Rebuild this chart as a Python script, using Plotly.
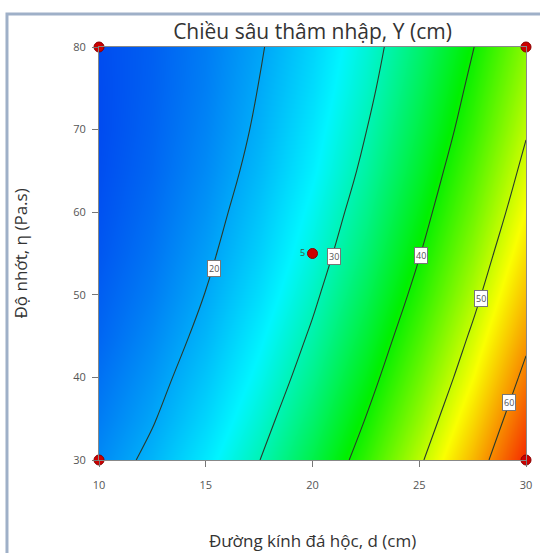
import plotly.graph_objects as go

# Axes (factor levels)
d_values = [10, 12.5, 15, 17.5, 20, 22.5, 25, 27.5, 30]          # Đường kính đá hộc, d (cm)
eta_values = [30, 35, 40, 45, 50, 55, 60, 65, 70, 75, 80]         # Độ nhớt, η (Pa.s)

# Response Y (cm); rows = eta, cols = d
Y_grid = [
    [17.7, 21.0, 25.1, 29.9, 35.6, 42.0, 49.3, 57.3, 66.1],
    [16.6, 19.7, 23.6, 28.3, 33.8, 40.1, 47.1, 55.0, 63.6],
    [15.7, 18.6, 22.3, 26.8, 32.1, 38.2, 45.1, 52.7, 61.2],
    [14.8, 17.6, 21.1, 25.5, 30.6, 36.5, 43.2, 50.7, 58.9],
    [14.2, 16.7, 20.1, 24.2, 29.2, 34.9, 41.4, 48.7, 56.8],
    [13.6, 16.0, 19.2, 23.1, 27.9, 33.4, 39.8, 46.9, 54.8],
    [13.2, 15.4, 18.4, 22.2, 26.8, 32.1, 38.3, 45.2, 52.9],
    [12.9, 14.9, 17.7, 21.3, 25.7, 30.9, 36.9, 43.7, 51.2],
    [12.7, 14.6, 17.2, 20.6, 24.9, 29.9, 35.7, 42.2, 49.6],
    [12.7, 14.4, 16.8, 20.1, 24.1, 28.9, 34.6, 41.0, 48.1],
    [12.8, 14.3, 16.6, 19.6, 23.5, 28.1, 33.6, 39.8, 46.8],
]

# Contour levels and label placement (d, eta)
contour_levels = [20, 30, 40, 50, 60]
label_d = [15.4, 21.0, 25.1, 27.9, 29.2]
label_eta = [53.2, 54.6, 54.7, 49.6, 37.0]

# Design points
design_d = [10, 10, 30, 30, 20]
design_eta = [30, 80, 30, 80, 55]
design_text = ["", "", "", "", "5"]

x_ticks = [10, 15, 20, 25, 30]
y_ticks = [30, 40, 50, 60, 70, 80]

FONT = "Open Sans"
colorscale = [
    [0.0, "rgb(0,75,240)"],
    [0.25, "rgb(0,245,255)"],
    [0.5, "rgb(0,240,0)"],
    [0.75, "rgb(250,255,0)"],
    [1.0, "rgb(245,40,0)"],
]

fig = go.Figure()
fig.add_trace(go.Heatmap(
    x=d_values, y=eta_values, z=Y_grid, zsmooth="best",
    colorscale=colorscale, zmin=12.7, zmax=66.1, showscale=False,
    hoverinfo="skip",
))
fig.add_trace(go.Contour(
    x=d_values, y=eta_values, z=Y_grid,
    contours=dict(start=contour_levels[0], end=contour_levels[-1], size=10,
                  coloring="none", showlabels=False),
    line=dict(color="#2a3a2a", width=1.1, smoothing=1.3),
    showscale=False, hoverinfo="skip",
))
fig.add_trace(go.Scatter(
    x=design_d, y=design_eta, mode="markers+text",
    text=design_text, textposition="middle left",
    textfont=dict(size=9, color="#3a5a3a", family=FONT),
    marker=dict(size=10, color="#cc0000", line=dict(color="#8a0000", width=1)),
    cliponaxis=False, hoverinfo="skip", showlegend=False,
))

for v, xd, ye in zip(contour_levels, label_d, label_eta):
    fig.add_annotation(
        x=xd, y=ye, text=str(v), showarrow=False,
        font=dict(size=9, color="#555555", family=FONT),
        bgcolor="white", bordercolor="#777777", borderwidth=1, borderpad=1,
    )

# Axis titles as annotations
fig.add_annotation(x=0.5, y=-0.196, xref="paper", yref="paper",
                   text="Đường kính đá hộc, d (cm)", showarrow=False,
                   font=dict(size=17, color="#333333", family=FONT),
                   xanchor="center", yanchor="middle")
fig.add_annotation(x=-0.185, y=0.5, xref="paper", yref="paper",
                   text="Độ nhớt, η (Pa.s)", showarrow=False, textangle=-90,
                   font=dict(size=17, color="#333333", family=FONT),
                   xanchor="center", yanchor="middle")

# Outer frame
fig.add_shape(type="rect", xref="paper", yref="paper",
              x0=-0.2155, y0=-0.3, x1=1.2, y1=1.080,
              line=dict(color="#9fb0c8", width=3), layer="below")

fig.update_layout(
    width=540, height=553,
    margin=dict(l=99, r=14, t=47, b=93, autoexpand=False),
    paper_bgcolor="white", plot_bgcolor="white",
    showlegend=False,
    title=dict(text="Chiều sâu thâm nhập, Y (cm)", x=0.5, xref="paper",
               y=1 - 32 / 553, yanchor="middle",
               font=dict(size=21, color="#333333", family=FONT)),
    font=dict(family=FONT),
)
fig.update_xaxes(range=[10, 30], tickvals=x_ticks, ticks="outside", ticklen=6,
                 tickcolor="#777777", tickfont=dict(size=11, color="#555555"),
                 ticklabelstandoff=9, automargin=False,
                 showline=True, linecolor="#888888", linewidth=1, mirror=True,
                 showgrid=False, zeroline=False)
fig.update_yaxes(range=[30, 80], tickvals=y_ticks, ticks="outside", ticklen=6,
                 tickcolor="#777777", tickfont=dict(size=11, color="#555555"),
                 ticklabelstandoff=4, automargin=False,
                 showline=True, linecolor="#888888", linewidth=1, mirror=True,
                 showgrid=False, zeroline=False)

fig.write_html("out.html", config={"displayModeBar": False},
               post_script="document.body.style.margin='0';document.body.style.padding='0';")
